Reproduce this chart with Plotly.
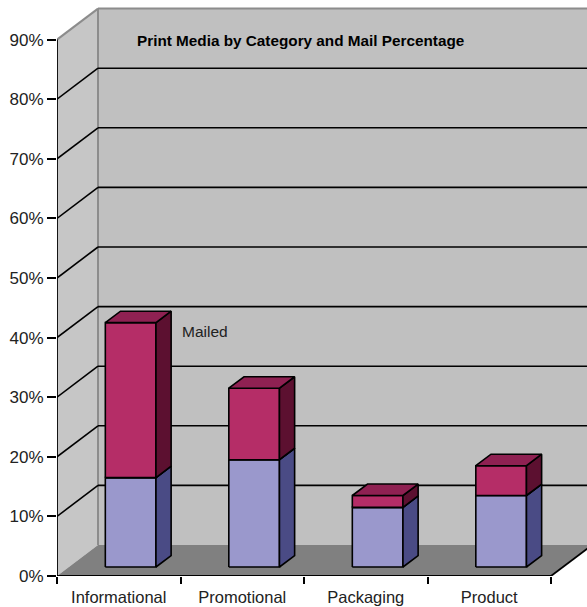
import plotly.graph_objects as go

# ---- data ----
categories = ["Informational", "Promotional", "Packaging", "Product"]
not_mailed = [15, 18, 10, 12]      # lower (blue) segment, %
mailed = [26, 12, 2, 5]            # upper (magenta) segment, %
y_ticks = [0, 10, 20, 30, 40, 50, 60, 70, 80, 90]
y_tick_labels = [f"{v}%" for v in y_ticks]
title_text = "Print Media by Category and Mail Percentage"
series_label = "Mailed"

# ---- geometry / style (in data units) ----
PX_PER_CAT = 123.5
PX_PER_PCT = 5.96
DX = 41 / PX_PER_CAT        # depth offset in category units
DY = 31 / PX_PER_PCT        # depth offset in % units
F1, F2 = 0.29, 0.66         # bar front/back depth fractions
HW = 0.205                  # half bar width
YMAX = 90
X0 = -0.5
XN = len(categories) - 0.5
XR = X0 + 530 / PX_PER_CAT
YR = 576 / PX_PER_PCT

FONT = "Liberation Sans, Arial, sans-serif"
C_WALL = "#c0c0c0"
C_LWALL = "#c6c6c6"
C_FLOOR = "#808080"
C_EDGE = "#8c8c8c"
BLUE = ("#9a98cc", "#4a4b85", "#6d6ca8")     # front, side, top
MAG = ("#b52d67", "#5c1030", "#8f2152")

def path(pts):
    return "M " + " L ".join(f"{x},{y}" for x, y in pts) + " Z"

shapes = []
# back wall
shapes.append(dict(type="path", layer="below", xref="x", yref="y",
                   path=path([(X0 + DX, DY), (XR + 1, DY), (XR + 1, YMAX + DY), (X0 + DX, YMAX + DY)]),
                   fillcolor=C_WALL, line=dict(width=0)))
# left wall
shapes.append(dict(type="path", layer="below", xref="x", yref="y",
                   path=path([(X0, 0), (X0 + DX, DY), (X0 + DX, YMAX + DY), (X0, YMAX)]),
                   fillcolor=C_LWALL, line=dict(width=0)))
# floor
shapes.append(dict(type="path", layer="below", xref="x", yref="y",
                   path=path([(X0, 0), (XN, 0), (XN + DX, DY), (X0 + DX, DY)]) ,
                   fillcolor=C_FLOOR, line=dict(width=0)))
shapes.append(dict(type="path", layer="below", xref="x", yref="y",
                   path=path([(XN, 0), (XR + 1, 0), (XR + 1, DY), (XN + DX, DY)]),
                   fillcolor=C_FLOOR, line=dict(width=0)))
# white area right of floor diagonal
shapes.append(dict(type="path", layer="below", xref="x", yref="y",
                   path=path([(XN, 0), (XR + 1, 0), (XR + 1, DY * (XR + 1 - XN) / DX)]),
                   fillcolor="white", line=dict(width=0)))
# wall edges (gray)
for a, b in [((X0 + DX, DY), (X0 + DX, YMAX + DY)),
             ((X0 + DX, YMAX + DY), (XR + 1, YMAX + DY)),
             ((X0, YMAX), (X0 + DX, YMAX + DY))]:
    shapes.append(dict(type="line", layer="below", xref="x", yref="y",
                       x0=a[0], y0=a[1], x1=b[0], y1=b[1],
                       line=dict(color=C_EDGE, width=2)))
# gridlines
for v in y_ticks[1:-1]:
    shapes.append(dict(type="line", layer="below", xref="x", yref="y",
                       x0=X0 + DX, y0=v + DY, x1=XR + 1, y1=v + DY,
                       line=dict(color="black", width=1.6)))
    shapes.append(dict(type="line", layer="below", xref="x", yref="y",
                       x0=X0, y0=v, x1=X0 + DX, y1=v + DY,
                       line=dict(color="black", width=1.6)))
# front axis lines
shapes.append(dict(type="line", xref="x", yref="y", x0=X0, y0=0, x1=X0, y1=YMAX,
                   line=dict(color="black", width=1.8)))
shapes.append(dict(type="line", xref="x", yref="y", x0=X0, y0=0, x1=XN, y1=0,
                   line=dict(color="black", width=1.8)))
shapes.append(dict(type="line", xref="x", yref="y", x0=XN, y0=0, x1=XN + DX, y1=DY,
                   line=dict(color="black", width=1.8)))

fig = go.Figure()

def poly(pts, color):
    xs = [p[0] for p in pts] + [pts[0][0]]
    ys = [p[1] for p in pts] + [pts[0][1]]
    fig.add_trace(go.Scatter(x=xs, y=ys, mode="lines", fill="toself",
                             fillcolor=color, line=dict(color="black", width=1.6),
                             hoverinfo="skip", showlegend=False))

ddx = (F2 - F1) * DX
ddy = (F2 - F1) * DY
for i, cat in enumerate(categories):
    xl = i - HW + F1 * DX
    xr = i + HW + F1 * DX
    yo = F1 * DY
    segs = [(0, not_mailed[i], BLUE), (not_mailed[i], not_mailed[i] + mailed[i], MAG)]
    for b, t, cols in segs:
        front = [(xl, yo + b), (xr, yo + b), (xr, yo + t), (xl, yo + t)]
        side = [(xr, yo + b), (xr + ddx, yo + b + ddy), (xr + ddx, yo + t + ddy), (xr, yo + t)]
        top = [(xl, yo + t), (xr, yo + t), (xr + ddx, yo + t + ddy), (xl + ddx, yo + t + ddy)]
        poly(front, cols[0])
        poly(side, cols[1])
        poly(top, cols[2])

annotations = [
    dict(x=0.13, y=89.9, xref="x", yref="y", text="<b>" + title_text + "</b>",
         showarrow=False, xanchor="left", yanchor="middle",
         font=dict(family=FONT, size=15.3, color="black")),
    dict(x=0 + HW + F2 * DX + 0.07, y=not_mailed[0] + mailed[0] + F1 * DY - 1.5,
         xref="x", yref="y", text=series_label, showarrow=False,
         xanchor="left", yanchor="middle",
         font=dict(family=FONT, size=15.5, color="#222222")),
]

fig.update_layout(
    width=587, height=607,
    margin=dict(l=57, r=0, t=0, b=31, pad=0),
    paper_bgcolor="white", plot_bgcolor="white",
    shapes=shapes, annotations=annotations,
    showlegend=False,
    xaxis=dict(range=[X0, XR], showgrid=False, zeroline=False, showline=False,
               tickmode="array", tickvals=list(range(len(categories))), ticktext=categories,
               ticks="", ticklabelstandoff=9,
               tickfont=dict(family=FONT, size=16.5, color="#222222"),
               minor=dict(tickmode="array", tickvals=[X0 + k for k in range(len(categories) + 1)],
                          ticks="outside", ticklen=7, tickwidth=1.8, tickcolor="black",
                          showgrid=False),
               fixedrange=True),
    yaxis=dict(range=[0, YR], showgrid=False, zeroline=False, showline=False,
               tickmode="array", tickvals=y_ticks, ticktext=y_tick_labels,
               ticks="outside", ticklen=9, tickwidth=1.8, tickcolor="black",
               tickfont=dict(family=FONT, size=17, color="#222222"),
               fixedrange=True),
)

fig.write_html("out.html")
